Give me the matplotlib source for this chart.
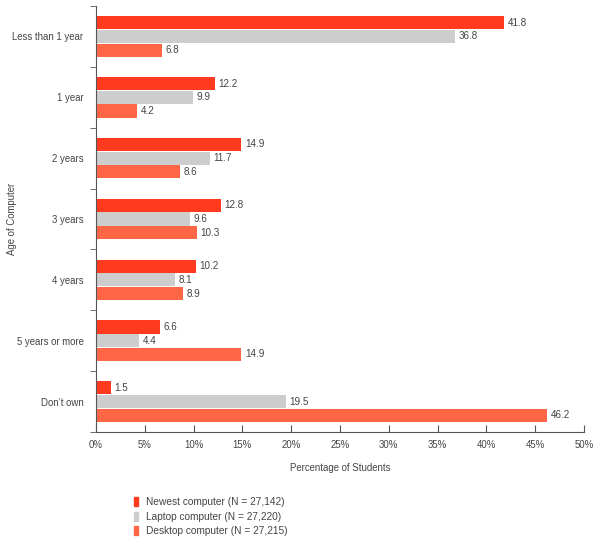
import matplotlib.pyplot as plt
import numpy as np
from matplotlib.patches import Patch

plt.rcParams['font.family'] = ['Liberation Sans', 'DejaVu Sans']

categories = ["Less than 1 year", "1 year", "2 years", "3 years",
              "4 years", "5 years or more", "Don\u2019t own"]
newest = [41.8, 12.2, 14.9, 12.8, 10.2, 6.6, 1.5]
laptop = [36.8, 9.9, 11.7, 9.6, 8.1, 4.4, 19.5]
desktop = [6.8, 4.2, 8.6, 10.3, 8.9, 14.9, 46.2]
series_names = ["Newest computer (N = 27,142)",
                "Laptop computer (N = 27,220)",
                "Desktop computer (N = 27,215)"]
colors = ["#FF3A1E", "#CDCDCD", "#FF6646"]
xticks = [0, 5, 10, 15, 20, 25, 30, 35, 40, 45, 50]

txt = "#444444"
fs = 6.9

fig = plt.figure(figsize=(6.03, 5.5), dpi=100)
ax = fig.add_axes([96 / 603, 1 - 432 / 550, 488 / 603, 426 / 550])

y = np.arange(len(categories))
h = 0.215
step = 0.225
for i, (vals, c) in enumerate(zip([newest, laptop, desktop], colors)):
    pos = y + (i - 1) * step
    ax.barh(pos, vals, height=h, color=c, label=series_names[i])
    for p, v in zip(pos, vals):
        ax.text(v + 0.35, p, f"{v:.1f}", va="center", ha="left",
                fontsize=7.1, color=txt)

ax.set_xlim(0, 50)
ax.set_ylim(len(categories) - 0.5, -0.5)
ax.set_xticks(xticks)
ax.set_xticklabels([f"{t}%" for t in xticks])
ax.set_yticks(y)
ax.set_yticklabels(categories)
ax.set_yticks(np.arange(-0.5, len(categories), 1), minor=True)
ax.tick_params(axis="y", which="major", length=0, pad=9, labelsize=fs, labelcolor=txt)
ax.tick_params(axis="y", which="minor", length=4, direction="out", color="#555555")
ax.tick_params(axis="x", direction="in", length=5, pad=6, labelsize=fs,
               labelcolor=txt, color="#555555")

for s in ["top", "right"]:
    ax.spines[s].set_visible(False)
for s in ["left", "bottom"]:
    ax.spines[s].set_color("#555555")
    ax.spines[s].set_linewidth(0.8)

ax.set_xlabel("Percentage of Students", fontsize=fs, color=txt, labelpad=9)
ax.set_ylabel("Age of Computer", fontsize=fs, color=txt)
ax.yaxis.set_label_coords(-0.162, 0.5)

handles = [Patch(color=c) for c in colors]
fig.legend(handles, series_names, loc="upper left", bbox_to_anchor=(125 / 603, 1 - 488 / 550),
           frameon=False, fontsize=7.3, handlelength=0.4, handleheight=1.0,
           handletextpad=0.8, labelspacing=0.45, labelcolor=txt)

plt.savefig("out.png", dpi=100)
